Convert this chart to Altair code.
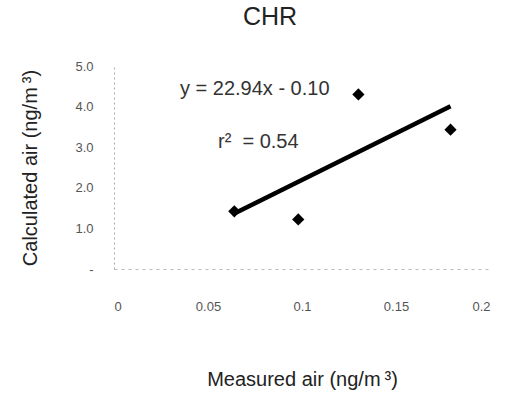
import altair as alt
import pandas as pd

# Data
measured = [0.064, 0.098, 0.130, 0.179]
calculated = [1.42, 1.22, 4.30, 3.43]

slope = 22.94
intercept = -0.10
fit_x = [min(measured), max(measured)]
fit_y = [slope * v + intercept for v in fit_x]

x_ticks = [0, 0.05, 0.1, 0.15, 0.2]
y_ticks = [0, 1, 2, 3, 4, 5]

pts = pd.DataFrame({"x": measured, "y": calculated})
fit = pd.DataFrame({"x": fit_x, "y": fit_y})

FONT = "Liberation Sans"

xs = alt.Scale(domain=[0, 0.2], nice=False, zero=False)
ys = alt.Scale(domain=[0, 5], nice=False)

xaxis = alt.Axis(
    values=x_ticks, title="Measured air (ng/m\u2009³)", grid=False, ticks=False,
    labelPadding=31, labelFontSize=13, labelColor="#555", labelFont=FONT,
    titleFont=FONT, titleFontSize=20, titleFontWeight="normal", titleColor="#222",
    titlePadding=56, domainColor="#bbb", domainDash=[3, 4],
    labelExpr="datum.value == 0 ? '0' : format(datum.value, '~g')",
)
yaxis = alt.Axis(
    values=y_ticks, title="Calculated air (ng/m\u2009³)", grid=False, ticks=False,
    labelPadding=21, labelFontSize=13, labelColor="#555", labelFont=FONT,
    titleFont=FONT, titleFontSize=20, titleFontWeight="normal", titleColor="#222",
    titlePadding=34, domainColor="#aaa", domainDash=[2, 3],
    labelExpr="datum.value == 0 ? '-' : format(datum.value, '.1f')",
)

points = alt.Chart(pts).mark_point(shape="diamond", filled=True, color="black", size=150, opacity=1).encode(
    x=alt.X("x:Q", scale=xs, axis=xaxis),
    y=alt.Y("y:Q", scale=ys, axis=yaxis),
)

line = alt.Chart(fit).mark_line(color="black", strokeWidth=4.5).encode(
    x=alt.X("x:Q", scale=xs),
    y=alt.Y("y:Q", scale=ys),
)

eq = alt.Chart(pd.DataFrame({"t": ["y = 22.94x - 0.10"]})).mark_text(
    font=FONT, fontSize=20, color="#333", align="left", baseline="middle"
).encode(text="t:N", x=alt.value(66), y=alt.value(23))

r2 = alt.Chart(pd.DataFrame({"t": ["r²\u00a0 = 0.54"]})).mark_text(
    font=FONT, fontSize=20, color="#333", align="left", baseline="middle"
).encode(text="t:N", x=alt.value(104), y=alt.value(76))

chart = alt.layer(line, points, eq, r2).properties(
    width=376, height=203,
    title=alt.TitleParams("CHR", font=FONT, fontSize=25, fontWeight="normal", color="#222",
                          anchor="middle", offset=30, dx=-32),
    autosize=alt.AutoSizeParams(type="none"),
    padding={"left": 114, "top": 66, "right": 40, "bottom": 124},
).configure(background="white").configure_view(stroke=None)

chart.save("out.html", embed_options={"renderer": "svg", "actions": False})
